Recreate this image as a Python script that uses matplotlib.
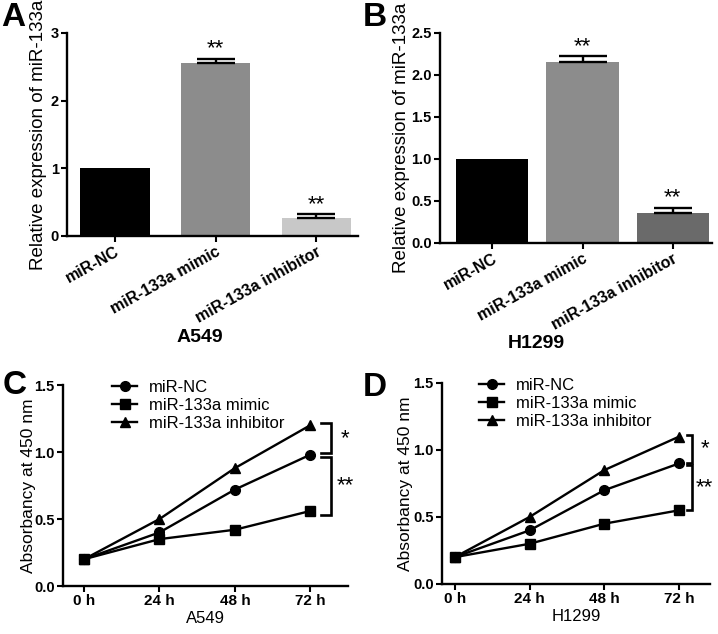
import matplotlib
matplotlib.use("Agg")
import matplotlib.pyplot as plt
import numpy as np

plt.rcParams['font.family'] = ['Liberation Sans', 'DejaVu Sans']

# ---- data ----
groups = ["miR-NC", "miR-133a mimic", "miR-133a inhibitor"]
a_vals = [1.0, 2.55, 0.26]
a_err = [0.0, 0.07, 0.06]
b_vals = [1.0, 2.15, 0.35]
b_err = [0.0, 0.07, 0.07]
a_colors = ["#000000", "#8c8c8c", "#c8c8c8"]
b_colors = ["#000000", "#8c8c8c", "#6a6a6a"]
bar_stars = ["", "**", "**"]

times = ["0 h", "24 h", "48 h", "72 h"]
c_nc = [0.20, 0.40, 0.72, 0.98]
c_mimic = [0.20, 0.35, 0.42, 0.56]
c_inh = [0.20, 0.50, 0.88, 1.20]
d_nc = [0.20, 0.40, 0.70, 0.90]
d_mimic = [0.20, 0.30, 0.45, 0.55]
d_inh = [0.20, 0.50, 0.85, 1.10]
series_names = ["miR-NC", "miR-133a mimic", "miR-133a inhibitor"]
markers = ["o", "s", "^"]

fig = plt.figure(figsize=(7.18, 6.34), dpi=100)

def style_axes(ax):
    for s in ["top", "right"]:
        ax.spines[s].set_visible(False)
    for s in ["left", "bottom"]:
        ax.spines[s].set_linewidth(1.7)
    ax.tick_params(axis="both", width=1.5, length=4, direction="out", pad=2)

def bar_panel(rect, vals, errs, colors, ylim, yticks, yticklabels, xlim, width, capsizes, lab_x):
    ax = fig.add_axes(rect)
    x = np.arange(len(vals))
    ax.bar(x, vals, width=width, color=colors, edgecolor="none", zorder=2)
    for i in range(len(vals)):
        if errs[i] > 0:
            ax.errorbar(x[i], vals[i], yerr=[[0], [errs[i]]], fmt="none", ecolor="black",
                        elinewidth=1.7, capsize=capsizes[i], capthick=1.7, zorder=3)
            ax.text(x[i], vals[i] + errs[i] - ylim[1] * 0.005, bar_stars[i], ha="center",
                    va="bottom", fontsize=16)
    ax.set_xlim(*xlim)
    ax.set_ylim(*ylim)
    ax.set_yticks(yticks)
    ax.set_yticklabels(yticklabels, fontweight="bold", fontsize=10.5)
    ax.set_xticks(x)
    ax.set_xticklabels(groups, rotation=29, ha="right", rotation_mode="anchor",
                       fontweight="bold", fontsize=11.5)
    ax.set_ylabel("Relative expression of miR-133a", fontsize=13.5)
    ax.yaxis.set_label_coords(lab_x, 0.5)
    style_axes(ax)
    return ax

axA = bar_panel([0.0933, 0.628, 0.405, 0.320], a_vals, a_err, a_colors, (0, 3),
                [0, 1, 2, 3], ["0", "1", "2", "3"], (-0.475, 2.41), 0.69, [13.5, 13.5, 13.5], -0.07)
axB = bar_panel([0.613, 0.617, 0.379, 0.331], b_vals, b_err, b_colors, (0, 2.5),
                [0, 0.5, 1.0, 1.5, 2.0, 2.5], ["0.0", "0.5", "1.0", "1.5", "2.0", "2.5"],
                (-0.58, 2.44), 0.80, [13.5, 17, 13.5], -0.11)

fig.text(200 / 718, 1 - 338 / 634, "A549", ha="center", va="center", fontsize=14, fontweight="bold")
fig.text(536 / 718, 1 - 344 / 634, "H1299", ha="center", va="center", fontsize=14, fontweight="bold")

def line_panel(rect, nc, mimic, inh, xlim, xlabel, lab_x, br, leg_x):
    ax = fig.add_axes(rect)
    x = np.arange(len(times))
    handles = []
    for vals, m, name in zip([nc, mimic, inh], markers, series_names):
        h, = ax.plot(x, vals, color="black", marker=m, markersize=7, linewidth=1.7,
                     label=name, clip_on=False, zorder=3)
        handles.append(h)
    ax.set_xlim(*xlim)
    ax.set_ylim(0, 1.5)
    ax.set_yticks([0, 0.5, 1.0, 1.5])
    ax.set_yticklabels(["0.0", "0.5", "1.0", "1.5"], fontweight="bold", fontsize=10.5)
    ax.set_xticks(x)
    ax.set_xticklabels(times, fontweight="bold", fontsize=11)
    ax.set_ylabel("Absorbancy at 450 nm", fontsize=12.5)
    ax.yaxis.set_label_coords(lab_x, 0.5)
    ax.set_xlabel(xlabel, fontsize=12, labelpad=2)
    style_axes(ax)
    ax.legend(handles=handles, loc="upper left", bbox_to_anchor=(leg_x, 1.06),
              frameon=False, fontsize=12, handlelength=1.5, handletextpad=0.7,
              labelspacing=0.2, borderaxespad=0)
    # brackets
    bx, bl, (t1, b1), (t2, b2), sx = br
    for top, bot in [(t1, b1), (t2, b2)]:
        ax.plot([bl, bx, bx, bl], [top, top, bot, bot], color="black", linewidth=1.9,
                clip_on=False, solid_joinstyle="miter")
    ax.text(sx, (t1 + b1) / 2, "*", ha="center", va="center", fontsize=16)
    ax.text(sx, (t2 + b2) / 2, "**", ha="center", va="center", fontsize=16)
    return ax

axC = line_panel([0.0877, 0.0757, 0.397, 0.317], c_nc, c_mimic, c_inh, (-0.28, 3.5), "A549", -0.095,
                 (3.27, 3.14, (1.215, 0.99), (0.96, 0.53), 3.46), 0.15)
axD = line_panel([0.6156, 0.0789, 0.373, 0.317], d_nc, d_mimic, d_inh, (-0.17, 3.41), "H1299", -0.11,
                 (3.17, 3.11, (1.11, 0.905), (0.885, 0.55), 3.34), 0.115)

for lx, ly, t in [(1, 2, "A"), (363, 2, "B"), (3, 370, "C"), (363, 372, "D")]:
    fig.text(lx / 718, 1 - ly / 634, t, ha="left", va="top", fontsize=24, fontweight="bold")

fig.savefig("out.png", dpi=100)
